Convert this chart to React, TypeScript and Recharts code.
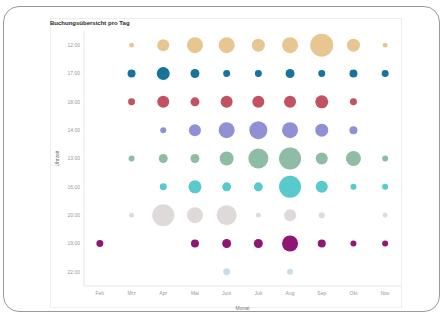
import { Scatter, ScatterChart, XAxis, YAxis, ZAxis } from "recharts";

const monate = ["Feb", "Mrz", "Apr", "Mai", "Juni", "Juli", "Aug", "Sep", "Okt", "Nov"];
const uhrzeiten = ["12:00", "17:00", "18:00", "14:00", "13:00", "16:00", "20:00", "19:00", "22:00"];
const farben = ["#e6c38c", "#0b6c92", "#bf4858", "#8a8ad2", "#88b8a0", "#4fc7c9", "#ddd7d7", "#8a0a6d", "#c9dae6"];

// Buchungen je Monat, eine Liste je Uhrzeit (null = keine Buchung)
const reihe12 = [null, 6, 36, 64, 64, 42, 64, 132, 42, 6];
const reihe17 = [null, 16, 42, 20, 12, 12, 20, 12, 16, 12];
const reihe18 = [null, 12, 36, 20, 36, 36, 36, 42, 12, null];
const reihe14 = [null, null, 9, 36, 64, 81, 64, 42, 16, null];
const reihe13 = [null, 9, 20, 20, 49, 100, 121, 36, 56, 9];
const reihe16 = [null, null, 12, 42, 20, 20, 121, 36, 9, 9];
const reihe20 = [null, 6, 121, 64, 100, 6, 36, 9, null, 6];
const reihe19 = [12, null, null, 16, 20, 20, 64, 16, 9, 9];
const reihe22 = [null, null, null, null, 12, null, 9, null, null, null];

const reihen = [reihe12, reihe17, reihe18, reihe14, reihe13, reihe16, reihe20, reihe19, reihe22];

const serien = reihen.map((werte, i) =>
  werte
    .map((v, j) => (v == null ? null : { x: j, y: i, z: v, monat: monate[j], zeit: uhrzeiten[i] }))
    .filter((d) => d !== null)
);

const tickStyle = { fontSize: 5, fill: "#999", fontFamily: "Liberation Sans, sans-serif" };

export default function App() {
  return (
    <div style={{ position: "fixed", left: 0, top: 0, width: 443, height: 317, background: "#fff" }}>
      <div
        style={{
          position: "absolute",
          left: 3,
          top: 6,
          width: 437,
          height: 306,
          border: "1px solid #9a9a9a",
          borderRadius: 16,
          boxSizing: "border-box",
        }}
      />
      <div
        style={{
          position: "absolute",
          left: 50,
          top: 18,
          width: 352,
          height: 290,
          border: "1px solid #eeeeee",
          boxSizing: "border-box",
        }}
      />
      <div
        style={{
          position: "absolute",
          left: 50,
          top: 19.5,
          fontSize: 6,
          fontWeight: "bold",
          color: "#2a2a2a",
          fontFamily: "Liberation Sans, sans-serif",
        }}
      >
        Buchungsübersicht pro Tag
      </div>
      <div style={{ position: "absolute", left: 0, top: 0 }}>
        <ScatterChart width={443} height={317} margin={{ top: 31, right: 42, bottom: 11, left: 0 }}>
          <XAxis
            type="number"
            dataKey="x"
            domain={[-0.5, 9.5]}
            ticks={[0, 1, 2, 3, 4, 5, 6, 7, 8, 9]}
            tickFormatter={(i) => monate[i]}
            tick={tickStyle}
            tickLine={false}
            tickSize={0}
            tickMargin={5}
            axisLine={{ stroke: "#e6e6e6" }}
            height={20}
            label={{ value: "Monat", position: "insideBottom", offset: -4, style: { ...tickStyle, fill: "#777" } }}
          />
          <YAxis
            type="number"
            dataKey="y"
            reversed
            domain={[-0.5, 8.5]}
            ticks={[0, 1, 2, 3, 4, 5, 6, 7, 8]}
            tickFormatter={(i) => uhrzeiten[i]}
            tick={tickStyle}
            tickLine={false}
            tickSize={0}
            tickMargin={4}
            axisLine={{ stroke: "#e6e6e6" }}
            width={84}
            label={{
              value: "Uhrzeit",
              angle: -90,
              position: "insideLeft",
              offset: 57,
              style: { ...tickStyle, fill: "#666", textAnchor: "middle" },
            }}
          />
          <ZAxis type="number" dataKey="z" domain={[0, 132]} range={[0, 415]} />
          {serien.map((daten, i) => (
            <Scatter
              key={uhrzeiten[i]}
              name={uhrzeiten[i]}
              data={daten}
              fill={farben[i]}
              fillOpacity={0.95}
              isAnimationActive={false}
            />
          ))}
        </ScatterChart>
      </div>
    </div>
  );
}
